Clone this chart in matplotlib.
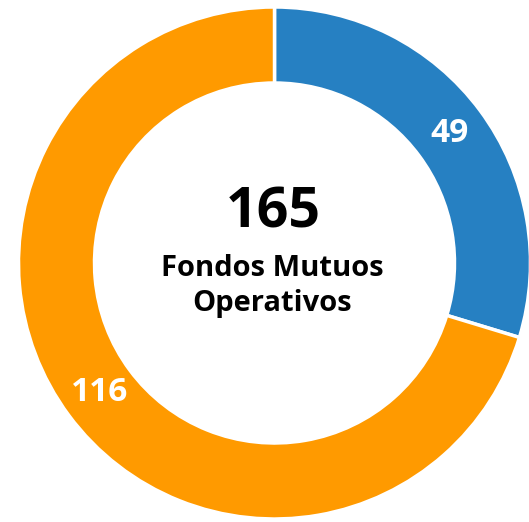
import matplotlib.pyplot as plt

# data
labels = ["Otros", "Fondos"]
values = [49, 116]
colors = ["#2680C2", "#FF9A00"]
total = sum(values)
center_lines = ["Fondos Mutuos", "Operativos"]

W, H = 529, 522
fig = plt.figure(figsize=(W / 100, H / 100), dpi=100)
ax = fig.add_axes([0, 0, 1, 1])

cx, cy = 274.5, H - 263
r_out = 256
width = 76

wedges, texts, autotexts = ax.pie(
    values, colors=colors, startangle=90, counterclock=False,
    center=(cx, cy), radius=r_out, frame=True,
    wedgeprops=dict(width=width, edgecolor="white", linewidth=2.5),
    autopct=lambda p: "%d" % round(p * total / 100),
    pctdistance=1 - width / 2 / r_out,
    textprops=dict(color="white", fontsize=24, fontweight="bold", family="Open Sans"),
)
ax.set_xlim(0, W)
ax.set_ylim(0, H)
ax.set_aspect("equal")
ax.axis("off")

font = dict(fontweight="bold", family="Open Sans", color="black", ha="center", va="baseline")
ax.text(273, H - 227, str(total), fontsize=40, **font)
ax.text(272, H - 276, center_lines[0], fontsize=21, **font)
ax.text(272, H - 311, center_lines[1], fontsize=21, **font)

fig.savefig("out.png", dpi=100)
